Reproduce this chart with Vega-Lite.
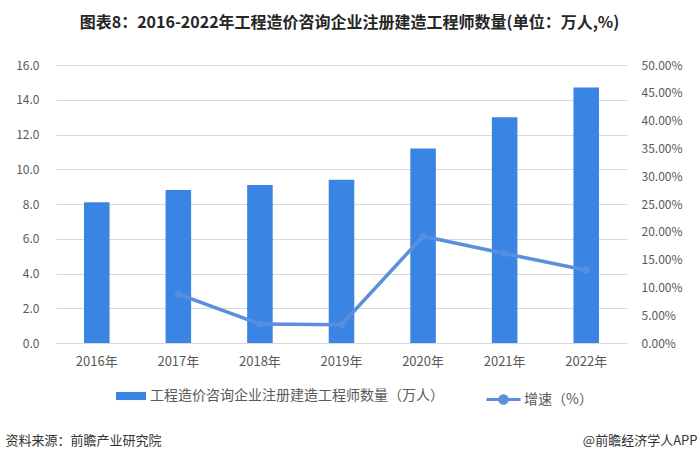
{
  "$schema": "https://vega.github.io/schema/vega-lite/v6.json",
  "width": 571,
  "height": 278,
  "autosize": {"type": "none"},
  "padding": {"left": 56, "top": 65, "right": 73, "bottom": 120},
  "background": "white",
  "title": {
    "text": "图表8：2016-2022年工程造价咨询企业注册建造工程师数量(单位：万人,%)",
    "font": "Noto Sans CJK SC",
    "fontSize": 16,
    "fontWeight": "bold",
    "color": "#262626",
    "anchor": "middle",
    "dx": 8,
    "offset": 28
  },
  "config": {
    "font": "Noto Sans CJK SC",
    "view": {"stroke": null},
    "axis": {"labelFont": "Noto Sans CJK SC", "titleFont": "Noto Sans CJK SC"},
    "legend": {"labelFont": "Noto Sans CJK SC"}
  },
  "data": {
    "values": [
      {"year": "2016年", "count": 8.1, "growth": null},
      {"year": "2017年", "count": 8.8, "growth": 8.8},
      {"year": "2018年", "count": 9.1, "growth": 3.4},
      {"year": "2019年", "count": 9.4, "growth": 3.3},
      {"year": "2020年", "count": 11.2, "growth": 19.2},
      {"year": "2021年", "count": 13.0, "growth": 16.1},
      {"year": "2022年", "count": 14.7, "growth": 13.1}
    ]
  },
  "encoding": {
    "x": {
      "field": "year",
      "type": "ordinal",
      "sort": null,
      "scale": {"paddingInner": 0.687, "paddingOuter": 0.3435},
      "axis": {
        "title": null,
        "labelAngle": 0,
        "labelFontSize": 13,
        "labelColor": "#595959",
        "labelPadding": 12,
        "ticks": false,
        "domain": true,
        "domainColor": "#D9D9D9",
        "domainWidth": 1
      }
    }
  },
  "layer": [
    {
      "mark": {"type": "bar", "color": "#3A84E3"},
      "encoding": {
        "y": {
          "field": "count",
          "type": "quantitative",
          "scale": {"domain": [0, 16], "nice": false},
          "axis": {
            "values": [0, 2, 4, 6, 8, 10, 12, 14, 16],
            "format": ".1f",
            "grid": true,
            "gridColor": "#D9D9D9",
            "gridWidth": 1,
            "domain": false,
            "ticks": false,
            "labelFontSize": 12,
            "labelColor": "#595959",
            "labelPadding": 17,
            "title": "资料来源：前瞻产业研究院",
            "titleAngle": 0,
            "titleX": -51,
            "titleY": 375,
            "titleAlign": "left",
            "titleBaseline": "middle",
            "titleFontSize": 13,
            "titleFontWeight": "normal",
            "titleColor": "#333333"
          }
        },
        "color": {
          "datum": "工程造价咨询企业注册建造工程师数量（万人）",
          "type": "nominal",
          "scale": {"range": ["#3A84E3"]},
          "legend": {
            "orient": "none",
            "legendX": 60,
            "legendY": 316,
            "title": null,
            "padding": 0,
            "symbolType": "M-1,-0.27H1V0.27H-1Z",
            "symbolSize": 900,
            "symbolStrokeWidth": 0,
            "labelFontSize": 14,
            "labelColor": "#595959",
            "labelOffset": 4,
            "labelLimit": 0
          }
        }
      }
    },
    {
      "transform": [{"filter": "datum.growth != null"}],
      "encoding": {
        "y": {
          "field": "growth",
          "type": "quantitative",
          "scale": {"domain": [0, 50], "nice": false},
          "axis": {
            "orient": "right",
            "values": [0, 5, 10, 15, 20, 25, 30, 35, 40, 45, 50],
            "labelExpr": "format(datum.value, '.2f') + '%'",
            "grid": false,
            "domain": false,
            "ticks": false,
            "labelFontSize": 12,
            "labelColor": "#595959",
            "labelPadding": 14,
            "title": "@前瞻经济学人APP",
            "titleAngle": 0,
            "titleX": 70,
            "titleY": 375,
            "titleAlign": "right",
            "titleBaseline": "middle",
            "titleFontSize": 13,
            "titleFontWeight": "normal",
            "titleColor": "#333333"
          }
        }
      },
      "layer": [
        {
          "mark": {"type": "line", "strokeWidth": 3.5, "color": "#5B8FDE"},
          "encoding": {
            "stroke": {
              "datum": "增速（%）",
              "type": "nominal",
              "scale": {"range": ["#5B8FDE"]},
              "legend": {
                "orient": "none",
                "legendX": 429,
                "legendY": 316,
                "title": null,
                "padding": 0,
                "symbolType": "M-1,0H1M0.22,0A0.22,0.22,0,1,1,-0.22,0A0.22,0.22,0,1,1,0.22,0",
                "symbolSize": 1156,
                "symbolStrokeWidth": 3,
                "symbolFillColor": "#5B8FDE",
                "labelFontSize": 14,
                "labelColor": "#595959",
                "labelOffset": 2,
                "labelLimit": 0
              }
            }
          }
        },
        {
          "mark": {"type": "point", "filled": true, "size": 45, "color": "#5B8FDE", "opacity": 1},
          "encoding": {}
        }
      ]
    }
  ],
  "resolve": {"scale": {"y": "independent"}}
}
